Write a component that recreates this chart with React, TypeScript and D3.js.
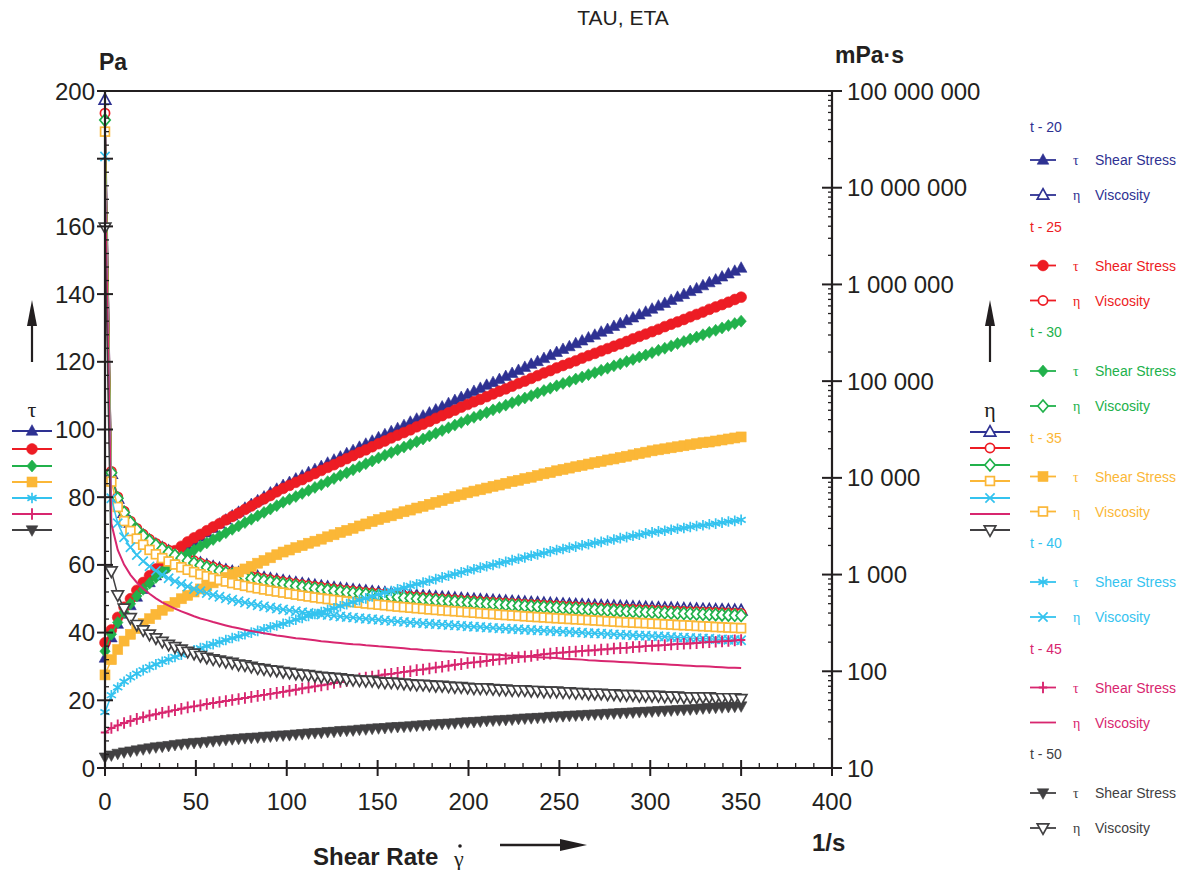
import React from 'react';
import * as d3 from 'd3';

// ---------------- DATA ----------------
const shearRate = [
  0, 3.5, 7, 10.5, 14, 17.5, 21, 24.5, 28, 31.5,
  35, 38.5, 42, 45.5, 49, 52.5, 56, 59.5, 63, 66.5,
  70, 73.5, 77, 80.5, 84, 87.5, 91, 94.5, 98, 101.5,
  105, 108.5, 112, 115.5, 119, 122.5, 126, 129.5, 133, 136.5,
  140, 143.5, 147, 150.5, 154, 157.5, 161, 164.5, 168, 171.5,
  175, 178.5, 182, 185.5, 189, 192.5, 196, 199.5, 203, 206.5,
  210, 213.5, 217, 220.5, 224, 227.5, 231, 234.5, 238, 241.5,
  245, 248.5, 252, 255.5, 259, 262.5, 266, 269.5, 273, 276.5,
  280, 283.5, 287, 290.5, 294, 297.5, 301, 304.5, 308, 311.5,
  315, 318.5, 322, 325.5, 329, 332.5, 336, 339.5, 343, 346.5,
  350,
];

// t - 20 (Pa, mPa·s)
const tauT20 = [
  32.5, 38.5, 42.5, 45.5, 48, 50.5, 52.8, 54.8, 56.8, 58.8,
  60.6, 62.3, 63.9, 65.4, 66.8, 68.2, 69.5, 70.8, 72.1, 73.3,
  74.5, 75.6, 76.8, 77.9, 79.0, 80.1, 81.3, 82.4, 83.5, 84.4,
  85.4, 86.3, 87.3, 88.2, 89.1, 90.1, 91.0, 91.9, 92.9, 93.8,
  94.8, 95.7, 96.6, 97.6, 98.5, 99.4, 100.3, 101.2, 102.2, 103.1,
  104.0, 104.9, 105.8, 106.7, 107.7, 108.6, 109.5, 110.4, 111.3, 112.2,
  113.1, 113.9, 114.8, 115.7, 116.6, 117.5, 118.4, 119.3, 120.1, 121.0,
  121.9, 122.8, 123.7, 124.5, 125.4, 126.2, 127.1, 127.9, 128.8, 129.6,
  130.5, 131.3, 132.2, 133.0, 133.9, 134.7, 135.6, 136.5, 137.3, 138.2,
  139.1, 139.9, 140.8, 141.6, 142.5, 143.4, 144.2, 145.1, 146.0, 146.8,
  147.7,
];
const etaT20 = [
  81000000, 11000, 6071, 4333, 3429, 2886, 2514, 2237, 2029, 1867,
  1731, 1618, 1521, 1437, 1363, 1299, 1241, 1190, 1144, 1102,
  1064, 1029, 997, 968, 940, 915, 893, 872, 852, 831,
  813, 795, 780, 764, 749, 735, 722, 710, 699, 687,
  677, 667, 657, 649, 640, 631, 623, 615, 608, 601,
  594, 588, 581, 575, 570, 564, 559, 553, 548, 543,
  539, 534, 529, 525, 521, 517, 513, 509, 505, 501,
  498, 494, 491, 487, 484, 481, 478, 475, 472, 469,
  466, 463, 461, 458, 455, 453, 450, 448, 446, 444,
  442, 439, 437, 435, 433, 431, 429, 427, 426, 424,
  422,
];

// t - 25
const tauT25 = [
  37.0, 40.8, 44.5, 47.5, 50.0, 52.5, 54.8, 56.8, 58.8, 60.8,
  62.6, 64.2, 65.5, 66.8, 68.0, 69.0, 70.1, 71.2, 72.2, 73.3,
  74.3, 75.3, 76.4, 77.4, 78.5, 79.5, 80.5, 81.6, 82.6, 83.5,
  84.4, 85.2, 86.1, 87.0, 87.9, 88.8, 89.6, 90.5, 91.4, 92.3,
  93.2, 94.0, 94.9, 95.8, 96.6, 97.5, 98.3, 99.1, 99.9, 100.8,
  101.6, 102.4, 103.3, 104.1, 104.9, 105.7, 106.6, 107.4, 108.2, 108.9,
  109.7, 110.5, 111.3, 112.0, 112.8, 113.6, 114.3, 115.1, 115.9, 116.7,
  117.4, 118.2, 118.9, 119.6, 120.3, 121.1, 121.8, 122.5, 123.2, 123.9,
  124.6, 125.3, 126.0, 126.8, 127.5, 128.2, 128.9, 129.6, 130.4, 131.1,
  131.8, 132.5, 133.3, 134.0, 134.7, 135.5, 136.2, 136.9, 137.6, 138.4,
  139.1,
];
const etaT25 = [
  59000000, 11657, 6357, 4524, 3571, 3000, 2610, 2318, 2100, 1930,
  1789, 1668, 1560, 1468, 1388, 1314, 1252, 1197, 1146, 1102,
  1061, 1024, 992, 961, 935, 909, 885, 864, 843, 823,
  804, 785, 769, 753, 739, 725, 711, 699, 687, 676,
  666, 655, 646, 637, 627, 619, 611, 602, 595, 588,
  581, 574, 568, 561, 555, 549, 544, 538, 533, 527,
  522, 518, 513, 508, 504, 499, 495, 491, 487, 483,
  479, 476, 472, 468, 464, 461, 458, 455, 451, 448,
  445, 442, 439, 436, 434, 431, 428, 426, 423, 421,
  418, 416, 414, 412, 409, 408, 405, 403, 401, 399,
  397,
];

// t - 30
const tauT30 = [
  34.5, 39.5, 43.0, 46.0, 48.5, 50.8, 52.8, 54.6, 56.3, 57.9,
  59.4, 60.8, 62.1, 63.3, 64.4, 65.5, 66.5, 67.5, 68.5, 69.5,
  70.5, 71.5, 72.5, 73.5, 74.5, 75.5, 76.5, 77.5, 78.5, 79.4,
  80.2, 81.1, 82.0, 82.9, 83.7, 84.6, 85.5, 86.4, 87.2, 88.1,
  89.0, 89.9, 90.7, 91.6, 92.4, 93.2, 94.0, 94.8, 95.6, 96.4,
  97.2, 98.1, 98.9, 99.7, 100.5, 101.3, 102.1, 102.9, 103.6, 104.3,
  105.0, 105.8, 106.5, 107.2, 107.9, 108.6, 109.3, 110.0, 110.8, 111.5,
  112.2, 112.9, 113.6, 114.2, 114.9, 115.5, 116.2, 116.8, 117.5, 118.1,
  118.8, 119.4, 120.1, 120.7, 121.4, 122.0, 122.7, 123.4, 124.0, 124.7,
  125.4, 126.0, 126.7, 127.3, 128.0, 128.7, 129.3, 130.0, 130.7, 131.3,
  132.0,
];
const etaT30 = [
  50000000, 11286, 6143, 4381, 3464, 2903, 2514, 2229, 2011, 1838,
  1697, 1579, 1479, 1391, 1314, 1248, 1188, 1134, 1087, 1045,
  1007, 973, 942, 913, 887, 863, 841, 820, 801, 782,
  764, 747, 732, 718, 703, 691, 679, 667, 656, 645,
  636, 627, 617, 609, 600, 592, 584, 576, 569, 562,
  555, 550, 543, 537, 532, 526, 521, 516, 510, 505,
  500, 496, 491, 486, 482, 477, 473, 469, 466, 462,
  458, 454, 451, 447, 444, 440, 437, 433, 430, 427,
  424, 421, 418, 415, 413, 410, 408, 405, 403, 400,
  398, 396, 394, 391, 389, 387, 385, 383, 381, 379,
  377,
];

// t - 35
const tauT35 = [
  27.5, 32.0, 35.0, 37.5, 39.5, 41.2, 42.7, 44.1, 45.4, 46.6,
  47.8, 48.9, 50.0, 51.0, 52.0, 52.9, 53.8, 54.7, 55.5, 56.3,
  57.1, 57.9, 58.8, 59.6, 60.5, 61.3, 62.1, 63.0, 63.8, 64.4,
  65.1, 65.7, 66.4, 67.0, 67.6, 68.3, 68.9, 69.6, 70.2, 70.8,
  71.5, 72.1, 72.8, 73.4, 74.0, 74.5, 75.1, 75.7, 76.2, 76.8,
  77.3, 77.9, 78.5, 79.0, 79.6, 80.2, 80.7, 81.3, 81.8, 82.2,
  82.7, 83.2, 83.6, 84.1, 84.6, 85.0, 85.5, 85.9, 86.4, 86.9,
  87.3, 87.8, 88.2, 88.6, 89.0, 89.4, 89.8, 90.2, 90.6, 91.0,
  91.3, 91.7, 92.1, 92.5, 92.9, 93.3, 93.7, 94.0, 94.3, 94.6,
  94.9, 95.2, 95.5, 95.8, 96.1, 96.3, 96.6, 96.9, 97.2, 97.5,
  97.8,
];
const etaT35 = [
  38000000, 9143, 5000, 3571, 2821, 2354, 2033, 1800, 1621, 1479,
  1366, 1270, 1190, 1121, 1061, 1008, 961, 919, 881, 847,
  816, 788, 764, 740, 720, 701, 682, 667, 651, 634,
  620, 606, 593, 580, 568, 558, 547, 537, 528, 519,
  511, 502, 495, 488, 481, 473, 466, 460, 454, 448,
  442, 436, 431, 426, 421, 417, 412, 408, 403, 398,
  394, 390, 385, 381, 378, 374, 370, 366, 363, 360,
  356, 353, 350, 347, 344, 341, 338, 335, 332, 329,
  326, 323, 321, 318, 316, 314, 311, 309, 306, 304,
  301, 299, 297, 294, 292, 290, 287, 285, 283, 281,
  279,
];

// t - 40
const tauT40 = [
  16.5, 21.5, 23.8, 25.5, 26.8, 27.9, 28.9, 29.8, 30.6, 31.4,
  32.1, 32.8, 33.5, 34.2, 34.8, 35.4, 36.0, 36.6, 37.2, 37.8,
  38.4, 38.9, 39.5, 40.0, 40.5, 41.0, 41.6, 42.1, 42.6, 43.2,
  43.8, 44.3, 44.9, 45.5, 46.1, 46.7, 47.2, 47.8, 48.4, 49.0,
  49.6, 50.1, 50.7, 51.3, 51.8, 52.3, 52.8, 53.3, 53.8, 54.3,
  54.8, 55.3, 55.8, 56.3, 56.8, 57.3, 57.8, 58.3, 58.7, 59.2,
  59.6, 60.0, 60.5, 60.9, 61.4, 61.8, 62.2, 62.7, 63.1, 63.5,
  64.0, 64.4, 64.7, 65.1, 65.4, 65.8, 66.1, 66.5, 66.8, 67.2,
  67.5, 67.9, 68.2, 68.6, 68.9, 69.3, 69.6, 69.9, 70.1, 70.4,
  70.7, 70.9, 71.2, 71.5, 71.7, 72.0, 72.2, 72.5, 72.8, 73.0,
  73.3,
];
const etaT40 = [
  21000000, 6143, 3400, 2429, 1914, 1594, 1376, 1216, 1093, 997,
  917, 852, 798, 752, 710, 674, 643, 615, 590, 568,
  549, 529, 513, 497, 482, 469, 457, 446, 435, 426,
  417, 408, 401, 394, 387, 381, 375, 369, 364, 359,
  354, 349, 345, 341, 336, 332, 328, 324, 320, 317,
  313, 310, 307, 304, 301, 298, 295, 292, 289, 287,
  284, 281, 279, 276, 274, 272, 269, 267, 265, 263,
  261, 259, 257, 255, 253, 251, 248, 247, 245, 243,
  241, 239, 238, 236, 234, 233, 231, 230, 228, 226,
  224, 223, 221, 220, 218, 217, 215, 214, 212, 211,
  209,
];

// t - 45
const tauT45 = [
  10.5, 11.8, 12.6, 13.3, 13.9, 14.5, 15.0, 15.5, 15.9, 16.3,
  16.7, 17.1, 17.5, 17.9, 18.2, 18.5, 18.9, 19.2, 19.5, 19.8,
  20.1, 20.4, 20.7, 21.0, 21.3, 21.6, 21.9, 22.2, 22.5, 22.8,
  23.1, 23.5, 23.8, 24.1, 24.4, 24.7, 25.1, 25.4, 25.7, 26.0,
  26.4, 26.7, 27.0, 27.3, 27.6, 27.8, 28.1, 28.4, 28.6, 28.9,
  29.1, 29.4, 29.7, 29.9, 30.2, 30.5, 30.7, 31.0, 31.2, 31.4,
  31.6, 31.9, 32.1, 32.3, 32.5, 32.7, 32.9, 33.1, 33.4, 33.6,
  33.8, 34.0, 34.1, 34.3, 34.4, 34.6, 34.7, 34.8, 35.0, 35.1,
  35.3, 35.4, 35.5, 35.7, 35.8, 36.0, 36.1, 36.2, 36.3, 36.5,
  36.6, 36.7, 36.8, 36.9, 37.1, 37.2, 37.3, 37.4, 37.5, 37.7,
  37.8,
];
const etaT45 = [
  12000000, 3371, 1800, 1267, 993, 829, 714, 633, 568, 517,
  477, 444, 417, 393, 371, 352, 338, 323, 310, 298,
  287, 278, 269, 261, 254, 247, 241, 235, 230, 225,
  220, 217, 213, 209, 205, 202, 199, 196, 193, 190,
  189, 186, 184, 181, 179, 177, 175, 173, 170, 169,
  166, 165, 163, 161, 160, 158, 157, 155, 154, 152,
  150, 149, 148, 146, 145, 144, 142, 141, 140, 139,
  138, 137, 135, 134, 133, 132, 130, 129, 128, 127,
  126, 125, 124, 123, 122, 121, 120, 119, 118, 117,
  116, 115, 114, 113, 113, 112, 111, 110, 109, 109,
  108,
];

// t - 50
const tauT50 = [
  3.2, 3.8, 4.3, 4.7, 5.0, 5.3, 5.6, 5.9, 6.2, 6.4,
  6.6, 6.9, 7.1, 7.3, 7.5, 7.6, 7.8, 8.0, 8.2, 8.4,
  8.6, 8.7, 8.9, 9.0, 9.1, 9.3, 9.4, 9.6, 9.7, 9.8,
  10.0, 10.1, 10.3, 10.4, 10.5, 10.7, 10.8, 11.0, 11.1, 11.2,
  11.4, 11.5, 11.7, 11.8, 11.9, 12.1, 12.2, 12.3, 12.4, 12.6,
  12.7, 12.8, 13.0, 13.1, 13.2, 13.3, 13.5, 13.6, 13.7, 13.8,
  14.0, 14.1, 14.2, 14.3, 14.4, 14.6, 14.7, 14.8, 14.9, 15.0,
  15.2, 15.3, 15.4, 15.5, 15.6, 15.7, 15.8, 15.9, 16.0, 16.1,
  16.2, 16.3, 16.4, 16.5, 16.6, 16.7, 16.8, 16.9, 17.0, 17.1,
  17.2, 17.3, 17.4, 17.5, 17.7, 17.8, 17.9, 18.0, 18.1, 18.2,
  18.3,
];
const etaT50 = [
  3900000, 1086, 614, 448, 357, 303, 267, 241, 221, 203,
  189, 179, 169, 160, 153, 145, 139, 134, 130, 126,
  123, 118, 116, 112, 108, 106, 103, 102, 99, 97,
  95, 93, 92, 90, 88, 87, 86, 85, 83, 82,
  81, 80, 80, 78, 77, 77, 76, 75, 74, 73,
  73, 72, 71, 71, 70, 69, 69, 68, 67, 67,
  67, 66, 65, 65, 64, 64, 64, 63, 63, 62,
  62, 62, 61, 61, 60, 60, 59, 59, 59, 58,
  58, 57, 57, 57, 56, 56, 56, 56, 55, 55,
  55, 54, 54, 54, 54, 54, 53, 53, 53, 53,
  52,
];

const seriesNames = ['t - 20', 't - 25', 't - 30', 't - 35', 't - 40', 't - 45', 't - 50'];
const xTicks = [0, 50, 100, 150, 200, 250, 300, 350, 400];
const yLeftTicks = [0, 20, 40, 60, 80, 100, 120, 140, 160, 180, 200];
const yLeftLabels = ['0', '20', '40', '60', '80', '100', '120', '140', '160', '', '200'];
const yRightTicks = [10, 100, 1000, 10000, 100000, 1000000, 10000000, 100000000];
const yRightLabels = ['10', '100', '1 000', '10 000', '100 000', '1 000 000', '10 000 000', '100 000 000'];

// ---------------- STYLE ----------------
const FONT = '"Liberation Sans", Arial, Helvetica, sans-serif';
const SERIF = '"Liberation Serif", "DejaVu Serif", serif';
const AX = '#231f20';
const COLORS = ['#2e3192', '#ed1c24', '#21b14b', '#fbb737', '#34c3ef', '#d8266f', '#414042'];

type MK = 'triUp' | 'triDown' | 'circle' | 'diamond' | 'square' | 'asterisk' | 'cross' | 'plus' | 'none';

const series = [
  { tau: tauT20, eta: etaT20, tauMk: 'triUp', etaMk: 'triUp' },
  { tau: tauT25, eta: etaT25, tauMk: 'circle', etaMk: 'circle' },
  { tau: tauT30, eta: etaT30, tauMk: 'diamond', etaMk: 'diamond' },
  { tau: tauT35, eta: etaT35, tauMk: 'square', etaMk: 'square' },
  { tau: tauT40, eta: etaT40, tauMk: 'asterisk', etaMk: 'cross' },
  { tau: tauT45, eta: etaT45, tauMk: 'plus', etaMk: 'none' },
  { tau: tauT50, eta: etaT50, tauMk: 'triDown', etaMk: 'triDown' },
].map((s, i) => ({ ...s, name: seriesNames[i], color: COLORS[i] })) as {
  tau: number[]; eta: number[]; tauMk: MK; etaMk: MK; name: string; color: string;
}[];

function Marker({ kind, x, y, color, filled }: { kind: MK; x: number; y: number; color: string; filled: boolean }) {
  const fill = filled ? color : '#ffffff';
  const sw = filled ? 0.6 : 1.7;
  switch (kind) {
    case 'triUp':
      return <path d={`M${x},${y - 6.3}L${x + 5.8},${y + 4.2}L${x - 5.8},${y + 4.2}Z`} fill={fill} stroke={color} strokeWidth={sw} />;
    case 'triDown':
      return <path d={`M${x},${y + 6.3}L${x + 5.8},${y - 4.2}L${x - 5.8},${y - 4.2}Z`} fill={fill} stroke={color} strokeWidth={sw} />;
    case 'circle':
      return <circle cx={x} cy={y} r={filled ? 5.4 : 4.6} fill={fill} stroke={color} strokeWidth={sw} />;
    case 'diamond':
      return <path d={`M${x},${y - 6}L${x + 5.2},${y}L${x},${y + 6}L${x - 5.2},${y}Z`} fill={fill} stroke={color} strokeWidth={sw} />;
    case 'square':
      return filled
        ? <rect x={x - 5} y={y - 5} width={10} height={10} fill={fill} stroke={color} strokeWidth={sw} />
        : <rect x={x - 4.4} y={y - 4.4} width={8.8} height={8.8} fill={fill} stroke={color} strokeWidth={sw} />;
    case 'asterisk': {
      const r = 5.3;
      const c = r * Math.cos(Math.PI / 6), s = r * Math.sin(Math.PI / 6);
      return <path d={`M${x},${y - r}L${x},${y + r}M${x - c},${y - s}L${x + c},${y + s}M${x - c},${y + s}L${x + c},${y - s}`} stroke={color} strokeWidth={1.7} fill="none" />;
    }
    case 'cross': {
      const r = 4.6;
      return <path d={`M${x - r},${y - r}L${x + r},${y + r}M${x - r},${y + r}L${x + r},${y - r}`} stroke={color} strokeWidth={1.7} fill="none" />;
    }
    case 'plus': {
      const r = 5.8;
      return <path d={`M${x},${y - r}L${x},${y + r}M${x - 4.2},${y}L${x + 4.2},${y}`} stroke={color} strokeWidth={1.9} fill="none" />;
    }
    default:
      return null;
  }
}

export default function App() {
  const x = d3.scaleLinear().domain([0, 400]).range([105, 832]);
  const yL = d3.scaleLinear().domain([0, 200]).range([768, 91]);
  const yR = d3.scaleLog().domain([10, 1e8]).range([768, 91]);

  const lineL = d3.line<number>().x((_, i) => x(shearRate[i])).y((d) => yL(d));
  const lineR = d3.line<number>().x((_, i) => x(shearRate[i])).y((d) => yR(d));

  const xMinor = d3.range(0, 401, 10).filter((v) => v % 50 !== 0);
  const yMinor = d3.range(0, 201, 4).filter((v) => v % 20 !== 0);
  const rMinor: number[] = [];
  yRightTicks.slice(0, -1).forEach((d) => {
    for (let k = 2; k <= 9; k++) rMinor.push(d * k);
  });

  const arrowUp = (cx: number) => (
    <g>
      <line x1={cx} x2={cx} y1={362} y2={322} stroke={AX} strokeWidth={2.2} />
      <path d={`M${cx},${300}L${cx + 5},${326}L${cx - 5},${326}Z`} fill={AX} />
    </g>
  );

  return (
    <svg width={1187} height={870} style={{ position: 'absolute', left: 0, top: 0, background: '#fff' }} fontFamily={FONT}>
      <rect x={0} y={0} width={1187} height={870} fill="#ffffff" />
      {/* title & units */}
      <text x={623} y={25} textAnchor="middle" fontSize={21} fill={AX}>TAU, ETA</text>
      <text x={99} y={70} fontSize={23} fontWeight="bold" fill={AX}>Pa</text>
      <text x={835} y={63} fontSize={23} fontWeight="bold" fill={AX}>mPa·s</text>

      {/* data */}
      {series.map((s, si) => (
        <g key={si}>
          <path d={lineL(s.tau) || ''} fill="none" stroke={s.color} strokeWidth={1.5} />
          {s.tau.map((v, i) => (
            <Marker key={'t' + i} kind={s.tauMk} x={x(shearRate[i])} y={yL(v)} color={s.color} filled={true} />
          ))}
          <path d={lineR(s.eta) || ''} fill="none" stroke={s.color} strokeWidth={s.etaMk === 'none' ? 2 : 1.5} />
          {s.eta.map((v, i) => (
            <Marker key={'e' + i} kind={s.etaMk} x={x(shearRate[i])} y={yR(v)} color={s.color} filled={false} />
          ))}
        </g>
      ))}

      {/* frame / axes */}
      <line x1={97} x2={842} y1={91} y2={91} stroke={AX} strokeWidth={2.2} />
      <line x1={105} x2={105} y1={91} y2={768} stroke={AX} strokeWidth={2.2} />
      <line x1={832} x2={832} y1={91} y2={768} stroke={AX} strokeWidth={2.2} />
      <line x1={105} x2={832} y1={768} y2={768} stroke={AX} strokeWidth={2.2} />

      {/* left axis */}
      {yLeftTicks.map((t, i) => (
        <g key={'yl' + t}>
          <line x1={97} x2={113} y1={yL(t)} y2={yL(t)} stroke={AX} strokeWidth={2} />
          <text x={95} y={yL(t) + 8.5} textAnchor="end" fontSize={24} fill={AX}>{yLeftLabels[i]}</text>
        </g>
      ))}
      {yMinor.map((t) => (
        <line key={'ylm' + t} x1={105} x2={109} y1={yL(t)} y2={yL(t)} stroke={AX} strokeWidth={1.3} />
      ))}

      {/* right axis */}
      {yRightTicks.map((t, i) => (
        <g key={'yr' + t}>
          <line x1={822} x2={842} y1={yR(t)} y2={yR(t)} stroke={AX} strokeWidth={2} />
          <text x={847} y={yR(t) + 8.5} fontSize={24} fill={AX}>{yRightLabels[i]}</text>
        </g>
      ))}
      {rMinor.map((t) => (
        <line key={'yrm' + t} x1={828} x2={832} y1={yR(t)} y2={yR(t)} stroke={AX} strokeWidth={1.3} />
      ))}

      {/* bottom axis */}
      {xTicks.map((t) => (
        <g key={'x' + t}>
          <line x1={x(t)} x2={x(t)} y1={760} y2={776} stroke={AX} strokeWidth={2} />
          <text x={x(t)} y={810} textAnchor="middle" fontSize={24} fill={AX}>{t}</text>
        </g>
      ))}
      {xMinor.map((t) => (
        <line key={'xm' + t} x1={x(t)} x2={x(t)} y1={768} y2={763} stroke={AX} strokeWidth={1.3} />
      ))}

      {/* x title */}
      <text x={313} y={865} fontSize={24} fontWeight="bold" fill={AX}>Shear Rate</text>
      <text x={454} y={866} fontSize={22} fontFamily={SERIF} fill={AX}>γ</text>
      <circle cx={460} cy={846} r={1.8} fill={AX} />
      <line x1={500} x2={565} y1={845} y2={845} stroke={AX} strokeWidth={2.4} />
      <path d="M587,845L560,839L560,851Z" fill={AX} />
      <text x={812} y={851} fontSize={24} fontWeight="bold" fill={AX}>1/s</text>

      {/* vertical arrows */}
      {arrowUp(32)}
      {arrowUp(990)}

      {/* left legend (tau) */}
      <text x={32} y={417} textAnchor="middle" fontSize={22} fontFamily={SERIF} fill={AX}>τ</text>
      {series.map((s, i) => {
        const yy = [431, 449, 466, 482, 498, 514, 530][i];
        return (
          <g key={'ll' + i}>
            <line x1={12} x2={52} y1={yy} y2={yy} stroke={s.color} strokeWidth={2} />
            <Marker kind={s.tauMk} x={32} y={yy} color={s.color} filled={true} />
          </g>
        );
      })}

      {/* right legend (eta) */}
      <text x={990} y={417} textAnchor="middle" fontSize={22} fontFamily={SERIF} fill={AX}>η</text>
      {series.map((s, i) => {
        const yy = [432, 448, 465, 481, 498, 514, 530][i];
        return (
          <g key={'rl' + i}>
            <line x1={970} x2={1010} y1={yy} y2={yy} stroke={s.color} strokeWidth={2} />
            <Marker kind={s.etaMk} x={990} y={yy} color={s.color} filled={false} />
          </g>
        );
      })}

      {/* grouped legend */}
      {series.map((s, i) => {
        const ty = 160 + i * 105.5;
        const ey = ty + 35;
        const hy = i === 0 ? 127 : ty - 39;
        return (
          <g key={'gl' + i} fontSize={14}>
            <text x={1030} y={hy + 5} fill={s.color}>{s.name}</text>
            <line x1={1030} x2={1056} y1={ty} y2={ty} stroke={s.color} strokeWidth={1.8} />
            <Marker kind={s.tauMk} x={1043} y={ty} color={s.color} filled={true} />
            <text x={1073} y={ty + 5} fontFamily={SERIF} fontSize={14} fill={s.color}>τ</text>
            <text x={1095} y={ty + 5} fill={s.color}>Shear Stress</text>
            <line x1={1030} x2={1056} y1={ey} y2={ey} stroke={s.color} strokeWidth={1.8} />
            <Marker kind={s.etaMk} x={1043} y={ey} color={s.color} filled={false} />
            <text x={1073} y={ey + 5} fontFamily={SERIF} fontSize={14} fill={s.color}>η</text>
            <text x={1095} y={ey + 5} fill={s.color}>Viscosity</text>
          </g>
        );
      })}
    </svg>
  );
}
